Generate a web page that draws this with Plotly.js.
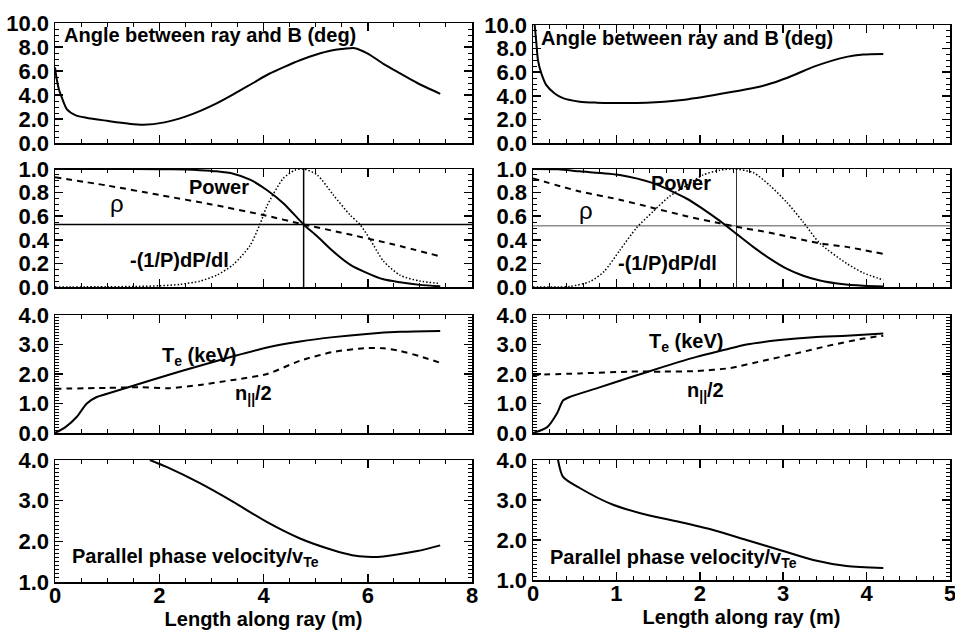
<!DOCTYPE html>
<html>
<head>
<meta charset="utf-8">
<script src="https://cdn.plot.ly/plotly-3.0.1.min.js"></script>
<style>html,body{margin:0;padding:0;background:#fff;}#chart{width:955px;height:638px;}</style>
</head>
<body>
<div id="chart"></div>
<script>
// ---------- Left column (ray 1) ----------
const angL_x = [0, 0.03, 0.08, 0.13, 0.23, 0.4, 0.6, 1.0, 1.4, 1.7, 2.1, 2.5, 2.8, 3.1, 3.42, 3.8, 4.1, 4.4, 4.7, 5.0, 5.3, 5.55, 5.75, 6.0, 6.3, 6.6, 6.95, 7.39];
const angL_y = [6.3, 5.4, 4.4, 3.8, 2.8, 2.3, 2.1, 1.85, 1.62, 1.52, 1.72, 2.2, 2.7, 3.3, 4.05, 5.0, 5.75, 6.35, 6.9, 7.35, 7.7, 7.85, 7.9, 7.45, 6.6, 5.85, 5.0, 4.1];

const powL_x = [0, 1, 2, 2.5, 2.78, 3.1, 3.42, 3.74, 4.07, 4.38, 4.77, 5.03, 5.34, 5.66, 5.98, 6.3, 6.62, 7.0, 7.39];
const powL_y = [1, 1, 0.998, 0.995, 0.99, 0.98, 0.96, 0.91, 0.82, 0.71, 0.53, 0.43, 0.30, 0.19, 0.12, 0.065, 0.04, 0.018, 0.006];

const rhoL_x = [0, 1, 2, 3, 4, 4.77, 5.5, 6.5, 7.39];
const rhoL_y = [0.93, 0.86, 0.78, 0.70, 0.61, 0.53, 0.46, 0.36, 0.26];

const dpL_x = [0, 1, 1.6, 2.0, 2.4, 2.78, 3.1, 3.42, 3.74, 3.93, 4.07, 4.38, 4.6, 4.77, 5.03, 5.34, 5.66, 5.85, 6.05, 6.3, 6.62, 7.0, 7.39];
const dpL_y = [0, 0.002, 0.005, 0.01, 0.022, 0.05, 0.1, 0.19, 0.35, 0.53, 0.69, 0.92, 0.99, 1.0, 0.95, 0.78, 0.61, 0.53, 0.4, 0.22, 0.1, 0.05, 0.03];

const refL_x = 4.77;
const refL_y = 0.53;

const teL_x = [0, 0.2, 0.42, 0.61, 0.8, 1.0, 1.5, 2.14, 2.78, 3.42, 4.07, 4.7, 5.34, 5.98, 6.62, 7.39];
const teL_y = [0, 0.2, 0.55, 1.0, 1.22, 1.33, 1.6, 1.95, 2.28, 2.6, 2.9, 3.1, 3.25, 3.36, 3.43, 3.46];

const nL_x = [0, 1, 1.6, 2.2, 2.78, 3.42, 4.07, 4.7, 5.34, 5.98, 6.3, 6.62, 7.0, 7.39];
const nL_y = [1.5, 1.53, 1.55, 1.52, 1.63, 1.8, 2.0, 2.45, 2.75, 2.88, 2.87, 2.78, 2.6, 2.38];

const vL_x = [1.82, 2.14, 2.78, 3.42, 4.07, 4.7, 5.34, 5.7, 5.98, 6.3, 6.95, 7.39];
const vL_y = [4.0, 3.83, 3.43, 2.97, 2.47, 2.07, 1.78, 1.66, 1.62, 1.63, 1.76, 1.9];

// ---------- Right column (ray 2) ----------
const angR_x = [0.02, 0.04, 0.06, 0.1, 0.16, 0.26, 0.36, 0.56, 0.76, 1.0, 1.36, 1.76, 2.16, 2.56, 2.76, 2.96, 3.16, 3.36, 3.76, 3.96, 4.2];
const angR_y = [10, 8.5, 7.0, 5.9, 4.9, 4.2, 3.8, 3.5, 3.42, 3.4, 3.42, 3.62, 4.05, 4.55, 4.85, 5.3, 5.85, 6.45, 7.3, 7.5, 7.55];

const powR_x = [0, 0.3, 0.56, 1.04, 1.44, 1.84, 2.04, 2.24, 2.44, 2.64, 2.84, 3.04, 3.24, 3.44, 3.7, 3.96, 4.2];
const powR_y = [1, 0.997, 0.98, 0.95, 0.88, 0.75, 0.66, 0.56, 0.45, 0.34, 0.24, 0.155, 0.095, 0.055, 0.025, 0.01, 0.004];

const rhoR_x = [0, 0.56, 1.04, 1.44, 1.84, 2.24, 2.44, 2.84, 3.44, 3.76, 4.2];
const rhoR_y = [0.92, 0.81, 0.74, 0.67, 0.6, 0.54, 0.51, 0.46, 0.37, 0.34, 0.28];

const dpR_x = [0, 0.3, 0.45, 0.68, 0.85, 1.04, 1.24, 1.44, 1.64, 1.84, 2.04, 2.24, 2.4, 2.64, 2.84, 3.04, 3.24, 3.44, 3.76, 3.96, 4.2];
const dpR_y = [0, 0, 0.005, 0.045, 0.13, 0.31, 0.5, 0.64, 0.77, 0.86, 0.95, 0.99, 1.0, 0.97, 0.86, 0.72, 0.55, 0.37, 0.2, 0.12, 0.06];

const refR_x = 2.44;
const refR_y = 0.52;

const teR_x = [0, 0.17, 0.29, 0.36, 0.44, 0.77, 1.16, 1.56, 1.96, 2.3, 2.56, 2.96, 3.36, 3.76, 4.2];
const teR_y = [0, 0.2, 0.68, 1.1, 1.22, 1.52, 1.88, 2.24, 2.58, 2.82, 3.0, 3.15, 3.25, 3.3, 3.37];

const nR_x = [0, 0.56, 1.16, 1.56, 1.96, 2.36, 2.76, 3.16, 3.56, 3.96, 4.2];
const nR_y = [1.97, 2.02, 2.08, 2.08, 2.1, 2.2, 2.45, 2.7, 2.97, 3.2, 3.3];

const vR_x = [0.3, 0.36, 0.56, 0.96, 1.36, 1.76, 2.16, 2.56, 2.96, 3.36, 3.76, 4.2];
const vR_y = [4.0, 3.58, 3.3, 2.88, 2.63, 2.45, 2.25, 2.0, 1.75, 1.5, 1.35, 1.3];

// ---------- Labels ----------
const xTitle = 'Length along ray (m)';
const angleLabel = 'Angle between ray and B (deg)';
const powerLabel = 'Power';
const rhoLabel = 'ρ';
const dpLabel = '-(1/P)dP/dl';
const teLabel = 'T<sub>e</sub> (keV)';
const nLabel = 'n<sub>||</sub>/2';
const vLabel = 'Parallel phase velocity/v<sub>Te</sub>';

// ---------- Build ----------
const FONT = '"Liberation Sans", Arial, Helvetica, sans-serif';
const W = 955, H = 638;
const colL = [55 / W, 472 / W];
const colR = [533 / W, 950 / W];
function yd(top, bot) { return [1 - bot / H, 1 - top / H]; }
const rowsL = [yd(23, 143), yd(169, 287), yd(315, 433), yd(460, 582)];
const rowsR = [yd(25, 143), yd(169, 287), yd(315, 433), yd(460, 580)];

const solid = {color: 'black', width: 2, dash: 'solid', shape: 'spline', smoothing: 0.7};
const dashed = {color: 'black', width: 2, dash: '6px,5px', shape: 'spline', smoothing: 0.7};
const dotted = {color: 'black', width: 1.5, dash: '1.5px,2px', shape: 'spline', smoothing: 0.7};

function tr(x, y, line, n) {
  return {x: x, y: y, mode: 'lines', line: line, xaxis: 'x' + (n === 1 ? '' : n), yaxis: 'y' + (n === 1 ? '' : n), hoverinfo: 'skip', showlegend: false};
}

const data = [
  tr(angL_x, angL_y, solid, 1),
  tr([0, 8], [refL_y, refL_y], {color: 'black', width: 1.5}, 2),
  tr([refL_x, refL_x], [0, 1], {color: 'black', width: 1.5}, 2),
  tr(powL_x, powL_y, solid, 2),
  tr(rhoL_x, rhoL_y, dashed, 2),
  tr(dpL_x, dpL_y, dotted, 2),
  tr(teL_x, teL_y, solid, 3),
  tr(nL_x, nL_y, dashed, 3),
  tr(vL_x, vL_y, solid, 4),
  tr(angR_x, angR_y, solid, 5),
  tr([0, 5], [refR_y, refR_y], {color: '#8c8c8c', width: 1.5}, 6),
  tr([refR_x, refR_x], [0, 1], {color: '#333', width: 1}, 6),
  tr(powR_x, powR_y, solid, 6),
  tr(rhoR_x, rhoR_y, dashed, 6),
  tr(dpR_x, dpR_y, dotted, 6),
  tr(teR_x, teR_y, solid, 7),
  tr(nR_x, nR_y, dashed, 7),
  tr(vR_x, vR_y, solid, 8)
];

const tickFont = {family: FONT, size: 22, color: 'black', weight: 'bold'};
function xax(domain, range, dtick, minor, showLabels, anchor) {
  const a = {
    domain: domain, range: range, dtick: dtick, tick0: 0, anchor: anchor,
    showline: true, linecolor: 'black', linewidth: 1.5, mirror: 'allticks',
    ticks: 'inside', ticklen: 8, tickwidth: 1.5, tickcolor: 'black',
    showgrid: false, zeroline: false, showticklabels: showLabels,
    tickfont: tickFont, fixedrange: true, ticklabeloverflow: 'allow',
    ticklabelstandoff: -7,
    minor: {ticks: 'inside', ticklen: 4, tickwidth: 1, tickcolor: 'black', dtick: minor, tick0: 0, showgrid: false}
  };
  if (showLabels) a.title = {text: xTitle, font: {family: FONT, size: 20, color: 'black', weight: 'bold'}, standoff: 4};
  return a;
}
function yax(domain, range, dtick, minor, anchor) {
  return {
    domain: domain, range: range, dtick: dtick, tick0: 0, anchor: anchor,
    showline: true, linecolor: 'black', linewidth: 1.5, mirror: 'allticks',
    ticks: 'inside', ticklen: 8, tickwidth: 1.5, tickcolor: 'black',
    showgrid: false, zeroline: false, tickformat: '.1f',
    tickfont: tickFont, fixedrange: true, ticklabeloverflow: 'allow',
    minor: {ticks: 'inside', ticklen: 4, tickwidth: 1, tickcolor: 'black', dtick: minor, tick0: 0, showgrid: false}
  };
}

const yRanges = [[0, 10], [0, 1], [0, 4], [1, 4]];
const yDticks = [2, 0.2, 1, 1];
const yMinors = [0.5, 0.05, 0.1, 0.1];

const layout = {
  width: W, height: H,
  margin: {l: 0, r: 0, t: 0, b: 0},
  paper_bgcolor: 'white', plot_bgcolor: 'white',
  font: {family: FONT, color: 'black'},
  showlegend: false,
  annotations: []
};
for (let i = 0; i < 4; i++) {
  const nL = i + 1, nR = i + 5;
  const sL = nL === 1 ? '' : nL;
  layout['xaxis' + sL] = xax(colL, [0, 8], 2, 0.5, i === 3, 'y' + sL);
  layout['yaxis' + sL] = yax(rowsL[i], yRanges[i], yDticks[i], yMinors[i], 'x' + sL);
  layout['xaxis' + nR] = xax(colR, [0, 5], 1, 0.2, i === 3, 'y' + nR);
  layout['yaxis' + nR] = yax(rowsR[i], yRanges[i], yDticks[i], yMinors[i], 'x' + nR);
}

function ann(text, n, x, y, xanchor, opts) {
  const s = n === 1 ? '' : n;
  const o = Object.assign({size: 20, weight: 'bold'}, opts || {});
  return {text: text, xref: 'x' + s, yref: 'y' + s, x: x, y: y, xanchor: xanchor, yanchor: 'middle',
    showarrow: false, font: {family: FONT, size: o.size, color: 'black', weight: o.weight}};
}
layout.annotations.push(
  ann(angleLabel, 1, 0.14, 9.0, 'left'),
  ann(powerLabel, 2, 3.15, 0.85, 'center'),
  ann(rhoLabel, 2, 1.19, 0.71, 'center', {size: 24, weight: 'normal'}),
  ann(dpLabel, 2, 1.40, 0.23, 'left'),
  ann(teLabel, 3, 2.02, 2.58, 'left'),
  ann(nLabel, 3, 3.42, 1.29, 'left'),
  ann(vLabel, 4, 0.29, 1.6, 'left'),
  ann(angleLabel, 5, 0.07, 8.9, 'left'),
  ann(powerLabel, 6, 1.77, 0.88, 'center'),
  ann(rhoLabel, 6, 0.64, 0.65, 'center', {size: 24, weight: 'normal'}),
  ann(dpLabel, 6, 1.0, 0.2, 'left'),
  ann(teLabel, 7, 1.37, 3.08, 'left'),
  ann(nLabel, 7, 1.82, 1.42, 'left'),
  ann(vLabel, 8, 0.18, 1.55, 'left')
);

Plotly.newPlot('chart', data, layout, {staticPlot: true, displayModeBar: false});
</script>
</body>
</html>
